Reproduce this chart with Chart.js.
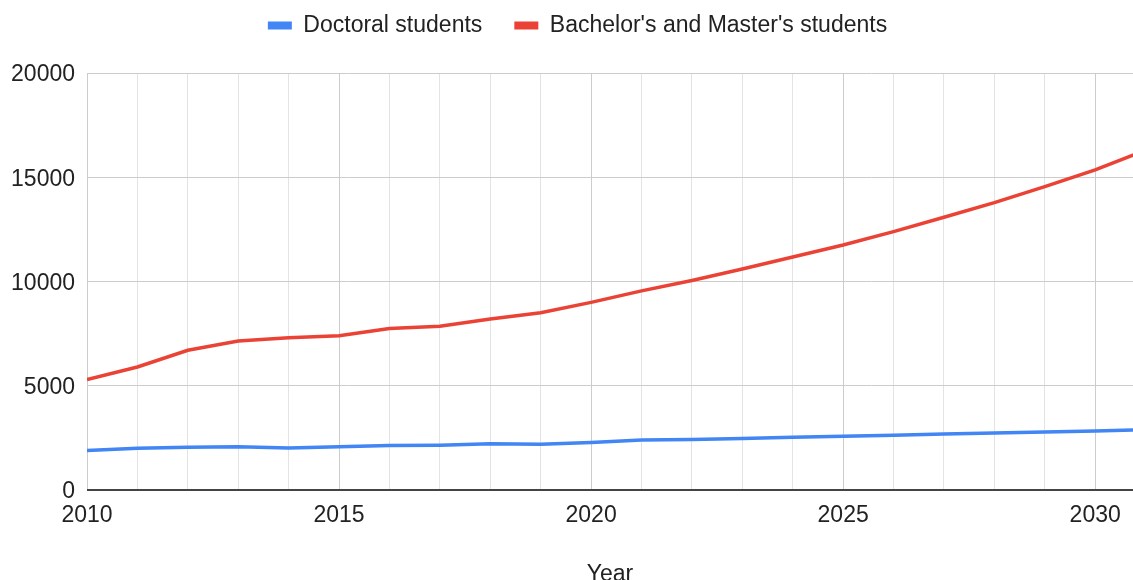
<!DOCTYPE html>
<html>
<head>
<meta charset="utf-8">
<script src="https://cdn.jsdelivr.net/npm/chart.js@4"></script>
<style>
    body { margin: 0; background: #fff; }
    #wrap { width: 1133px; height: 580px; }
</style>
</head>
<body>
<div id="wrap"><canvas id="studentsChart" width="1133" height="580"></canvas></div>
<script>
// data
const years = [2010, 2011, 2012, 2013, 2014, 2015, 2016, 2017, 2018, 2019, 2020,
    2021, 2022, 2023, 2024, 2025, 2026, 2027, 2028, 2029, 2030, 2031];
const doctoral = [1900, 2000, 2050, 2080, 2020, 2080, 2130, 2150, 2220, 2200, 2280,
    2400, 2420, 2470, 2530, 2580, 2620, 2680, 2730, 2780, 2830, 2900];
const bachelorMaster = [5300, 5900, 6700, 7150, 7300, 7400, 7750, 7850, 8200, 8500, 9000,
    9550, 10050, 10600, 11175, 11750, 12390, 13080, 13780, 14550, 15350, 16300];
const yTicks = [0, 5000, 10000, 15000, 20000];

const textColor = "#222222";
const fontFamily = "'Liberation Sans', Arial, sans-serif";
const fontSize = 23;

// fixed legend height so the plot starts where the reference does,
// and nudge it a bit right like the reference
const legendPlace = {
    id: "legendPlace",
    beforeInit(chart) {
        const fit = chart.legend.fit;
        chart.legend.fit = function () {
            fit.bind(chart.legend)();
            this.height = 91;
        };
    },
    afterLayout(chart) {
        chart.legend.left += 11;
        chart.legend.right += 11;
    },
};

const ctx = document.getElementById("studentsChart").getContext("2d");

new Chart(ctx, {
    type: "line",
    data: {
        datasets: [
            {
                label: "Doctoral students",
                data: years.map((y, i) => ({ x: y, y: doctoral[i] })),
                borderColor: "#4285f4",
                backgroundColor: "#4285f4",
                borderWidth: 3.5,
                pointRadius: 0,
                tension: 0,
            },
            {
                label: "Bachelor's and Master's students",
                data: years.map((y, i) => ({ x: y, y: bachelorMaster[i] })),
                borderColor: "#ea4335",
                backgroundColor: "#ea4335",
                borderWidth: 3.5,
                pointRadius: 0,
                tension: 0,
            },
        ],
    },
    options: {
        responsive: false,
        animation: false,
        devicePixelRatio: 1,
        layout: {
            padding: { top: -18, left: 0, right: 0, bottom: 0 },
        },
        plugins: {
            legend: {
                position: "top",
                labels: {
                    boxWidth: 24,
                    boxHeight: 8,
                    padding: 32,
                    color: textColor,
                    font: { family: fontFamily, size: fontSize },
                    generateLabels(chart) {
                        const items = Chart.defaults.plugins.legend.labels.generateLabels(chart);
                        items.forEach((item) => {
                            item.lineWidth = 0;
                        });
                        return items;
                    },
                },
            },
            tooltip: { enabled: false },
        },
        scales: {
            x: {
                type: "linear",
                min: 2010,
                max: 2030.75,
                afterFit(scale) {
                    scale.height = 90;
                },
                border: { display: false },
                grid: {
                    drawTicks: false,
                    color: (c) => (c.tick && c.tick.value % 5 === 0 ? "#cccccc" : "#e3e3e3"),
                },
                ticks: {
                    stepSize: 1,
                    autoSkip: false,
                    includeBounds: false,
                    maxRotation: 0,
                    padding: 12,
                    color: textColor,
                    font: { family: fontFamily, size: fontSize },
                    callback: (v) => (v % 5 === 0 ? String(v) : ""),
                },
                title: {
                    display: true,
                    text: "Year",
                    color: textColor,
                    font: { family: fontFamily, size: fontSize, lineHeight: 1 },
                    padding: { top: 0, bottom: -6 },
                },
            },
            y: {
                min: 0,
                max: 20000,
                afterFit(scale) {
                    scale.width = 87;
                },
                afterBuildTicks(scale) {
                    scale.ticks = yTicks.map((v) => ({ value: v }));
                },
                border: { display: false },
                grid: {
                    drawTicks: false,
                    color: (c) => (c.tick && c.tick.value === 0 ? "#444444" : "#cccccc"),
                    lineWidth: (c) => (c.tick && c.tick.value === 0 ? 2 : 1),
                },
                ticks: {
                    padding: 12,
                    labelOffset: 2,
                    color: textColor,
                    font: { family: fontFamily, size: fontSize },
                    callback: (v) => String(v),
                },
            },
        },
    },
    plugins: [legendPlace],
});
</script>
</body>
</html>
